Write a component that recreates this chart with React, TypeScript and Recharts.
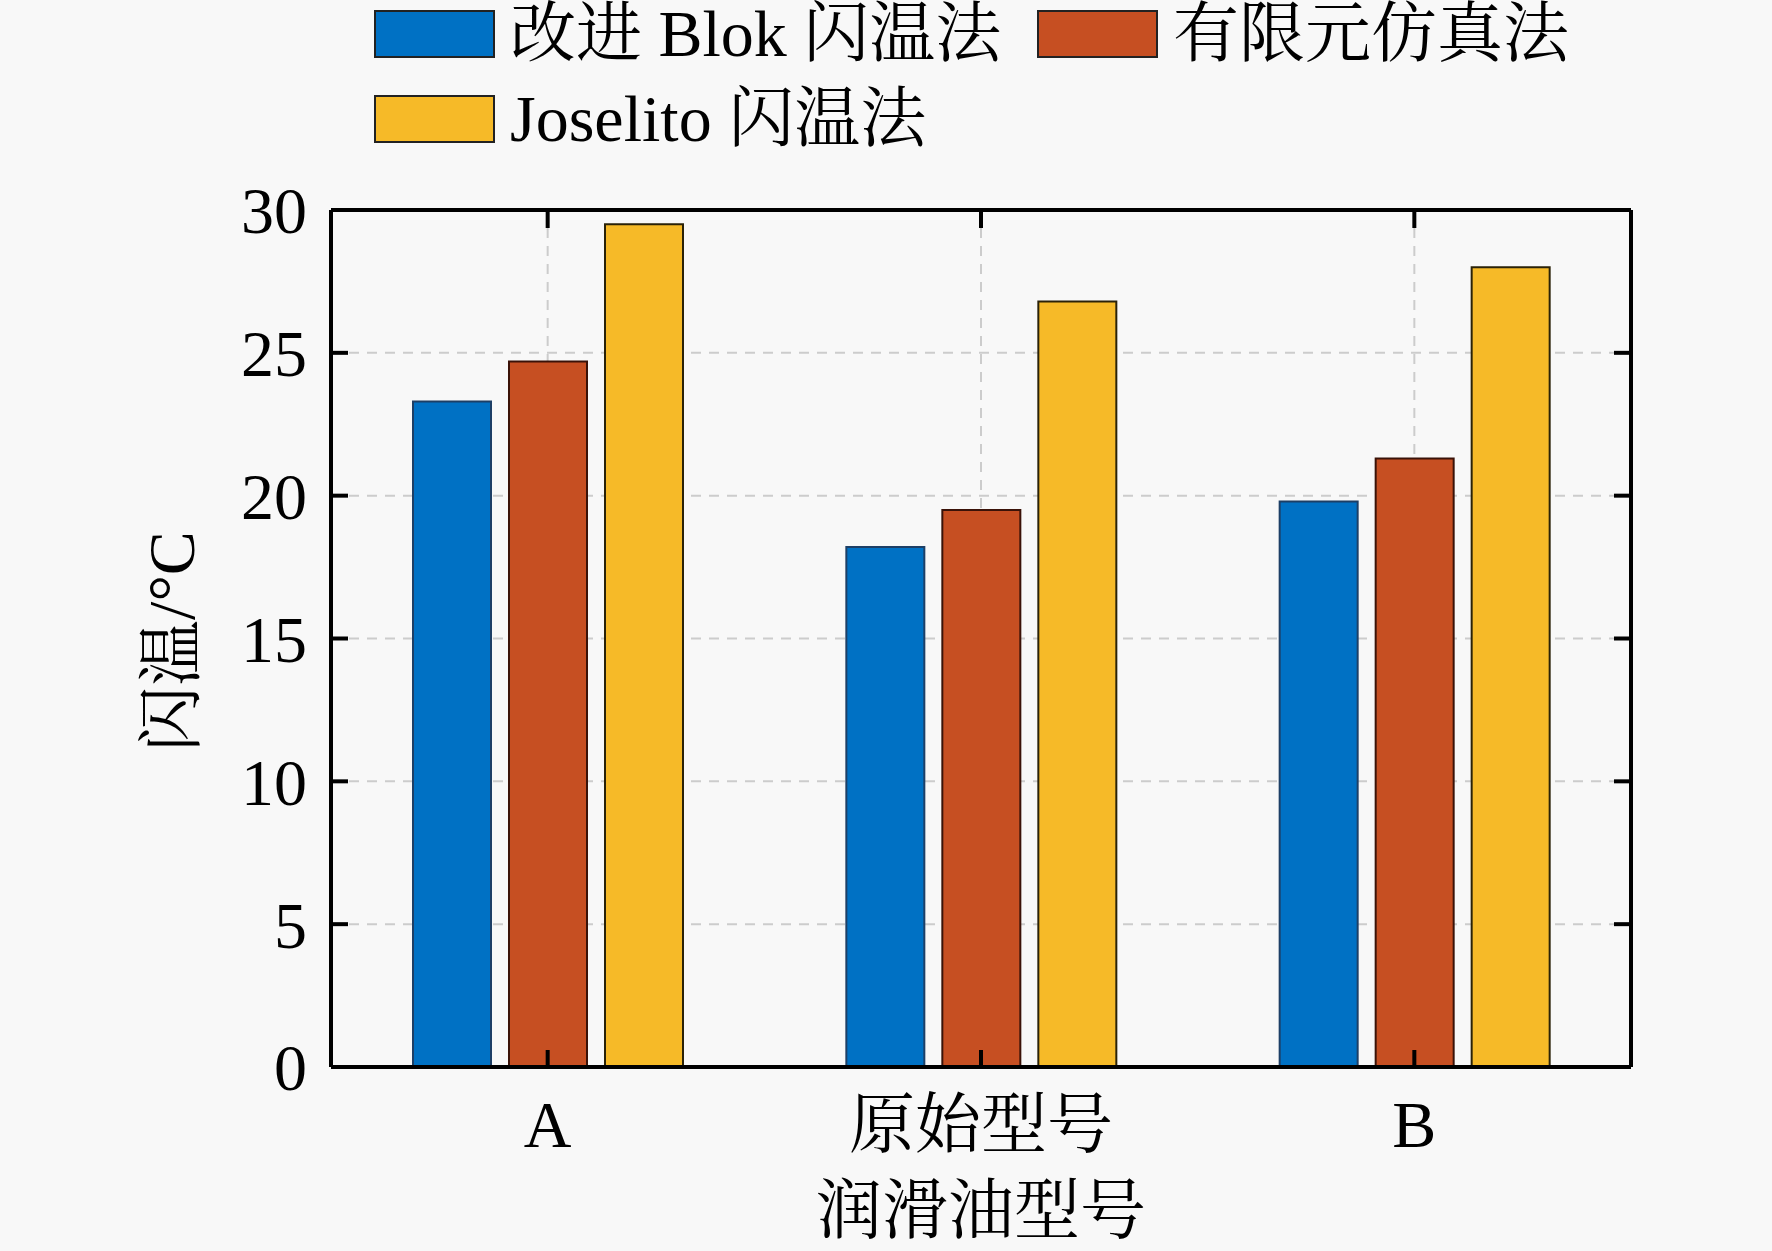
import React from 'react';
import { BarChart, Bar, XAxis, YAxis, CartesianGrid } from 'recharts';

const categories = ['A', '原始型号', 'B'];
const blokValues = [23.3, 18.2, 19.8];
const femValues = [24.7, 19.5, 21.3];
const joselitoValues = [29.5, 26.8, 28.0];
const yTicks = [0, 5, 10, 15, 20, 25, 30];

const seriesNames = ['改进 Blok 闪温法', '有限元仿真法', 'Joselito 闪温法'];
const seriesKeys = ['blok', 'fem', 'joselito'];
const seriesColors = ['#0071C4', '#C64F22', '#F6BA28'];
const seriesStrokes = ['#1d3f66', '#3a1208', '#2a2208'];

const data = categories.map((name, i) => ({
  name,
  blok: blokValues[i],
  fem: femValues[i],
  joselito: joselitoValues[i],
}));

const FONT = "'Liberation Serif', 'Times New Roman', 'Noto Serif CJK SC', 'Noto Sans CJK SC', serif";
const FS = 66;

const W = 1772;
const H = 1251;
const MARGIN_RIGHT = 140;
const RIGHT_AXIS_X = W - MARGIN_RIGHT - 1;
const AX = { stroke: '#000', strokeWidth: 4 };
const TICKLEN = 17;

const TopTick = (props: any) => (
  <line x1={props.x} x2={props.x} y1={props.y - 1} y2={props.y + TICKLEN} stroke="#000" strokeWidth={4} />
);
const LeftTick = (props: any) => (
  <g>
    <line x1={props.x + 24} x2={props.x + 24 + TICKLEN} y1={props.y} y2={props.y} stroke="#000" strokeWidth={4} />
    <line x1={RIGHT_AXIS_X} x2={RIGHT_AXIS_X - TICKLEN} y1={props.y} y2={props.y} stroke="#000" strokeWidth={4} />
    <text
      x={props.x}
      y={props.y}
      dy="0.355em"
      textAnchor="end"
      fill="#000"
      fontSize={FS}
      fontFamily={FONT}
    >
      {props.payload.value}
    </text>
  </g>
);

function LegendBlock() {
  const cols = [374, 1037];
  const rows = [10, 95];
  return (
    <div style={{ position: 'absolute', left: 0, top: 0, width: W, height: 170, pointerEvents: 'none' }}>
      {seriesNames.map((n, i) => {
        const left = cols[i % 2];
        const top = rows[Math.floor(i / 2)];
        return (
          <div key={n} style={{ position: 'absolute', left, top, display: 'flex', alignItems: 'center', height: 48 }}>
            <div
              style={{
                width: 117,
                height: 44,
                background: seriesColors[i],
                border: '2px solid #222',
                flex: 'none',
              }}
            />
            <span
              style={{
                marginLeft: 15,
                fontFamily: FONT,
                fontSize: FS,
                lineHeight: '48px',
                color: '#000',
                whiteSpace: 'pre',
              }}
            >
              {n}
            </span>
          </div>
        );
      })}
    </div>
  );
}

const YLabel = (props: any) => {
  const vb = props.viewBox || {};
  const cy = (vb.y || 0) + (vb.height || 0) / 2;
  return (
    <text
      x={171}
      y={cy + 3}
      transform={`rotate(-90, 171, ${cy + 3})`}
      textAnchor="middle"
      dominantBaseline="central"
      fontFamily={FONT}
      fontSize={FS}
      fill="#000"
    >
      闪温/°C
    </text>
  );
};

export default function App() {
  return (
    <div style={{ position: 'absolute', left: 0, top: 0, width: W, height: H, background: '#f8f8f8' }}>
      <BarChart
        width={W}
        height={H}
        data={data}
        margin={{ top: 209, right: MARGIN_RIGHT, bottom: 0, left: 0 }}
        barSize={78}
        barGap={18}
        style={{ fontFamily: FONT }}
      >
        <CartesianGrid stroke="#cccccc" strokeWidth={2} strokeDasharray="10 8" />
        <XAxis
          dataKey="name"
          height={184}
          axisLine={AX}
          tickLine={AX}
          tickSize={-17}
          tickMargin={50}
          tick={{ fill: '#000', fontSize: FS, fontFamily: FONT }}
          interval={0}
          label={{
            value: '润滑油型号',
            position: 'insideBottom',
            offset: 18,
            fill: '#000',
            fontSize: FS,
            fontFamily: FONT,
          }}
        />
        <XAxis
          xAxisId="top"
          dataKey="name"
          orientation="top"
          height={1}
          axisLine={AX}
          tickLine={false}
          tickSize={0}
          tickMargin={-1}
          tick={<TopTick />}
          interval={0}
        />
        <YAxis
          width={331}
          domain={[0, 30]}
          ticks={yTicks}
          interval={0}
          axisLine={AX}
          tickLine={false}
          tickSize={0}
          tickMargin={24}
          tick={<LeftTick />}
          label={<YLabel />}
        />
        <YAxis
          yAxisId="right"
          orientation="right"
          width={1}
          domain={[0, 30]}
          ticks={yTicks}
          interval={0}
          axisLine={AX}
          tickLine={false}
          tick={false}
        />
        {seriesKeys.map((k, i) => (
          <Bar
            key={k}
            dataKey={k}
            name={seriesNames[i]}
            fill={seriesColors[i]}
            stroke={seriesStrokes[i]}
            strokeWidth={2}
            isAnimationActive={false}
          />
        ))}
      </BarChart>
      <LegendBlock />
    </div>
  );
}
